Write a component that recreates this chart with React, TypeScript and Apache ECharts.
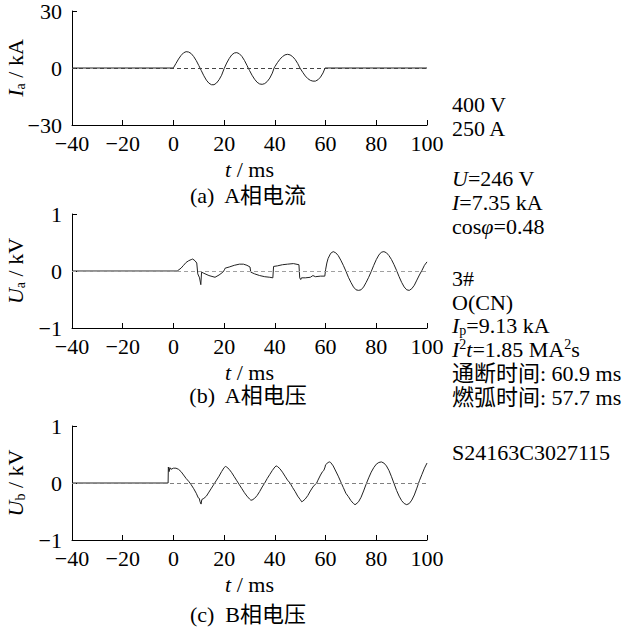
import React, { useEffect, useRef } from 'react';
import * as echarts from 'echarts';

// ---------- data ----------
const xTicks = [-40, -20, 0, 20, 40, 60, 80, 100];
const iaTicks = [-30, 0, 30];
const uTicks = [-1, 0, 1];

// (a) A-phase current, kA
const iaData: [number, number][] = [
  [-40, 0], [-0.5, 0], [0, 0.1], [1, 2.4], [2, 4.7], [3, 6.6], [4, 8.0], [5, 8.6], [6, 8.4], [7, 7.6], [8, 6.0], [9, 3.9], [10, 1.3], [10.5, 0],
  [11, -1.4], [12, -4.1], [13, -6.4], [14, -8.0], [15, -8.8], [16, -8.8], [17, -7.9], [18, -6.2], [19, -3.8], [20, -0.3],
  [21, 2.6], [22, 5.0], [23, 6.9], [24, 7.9], [25, 8.1], [26, 7.5], [27, 6.1], [28, 4.0], [29, 1.4], [29.5, 0],
  [30, -1.3], [31, -3.8], [32, -5.9], [33, -7.5], [34, -8.4], [35, -8.6], [36, -8.2], [37, -7.1], [38, -5.3], [39, -2.7], [39.7, 0],
  [40, 0.7], [41, 2.8], [42, 4.6], [43, 6.0], [44, 6.9], [45, 7.2], [46, 6.9], [47, 6.0], [48, 4.5], [49, 2.4], [49.9, 0],
  [51, -2.3], [52, -4.2], [53, -5.6], [54, -6.5], [55, -6.9], [56, -6.9], [57, -6.2], [58, -4.8], [59, -2.6], [59.8, 0], [100, 0],
];

// (b) A-phase voltage, kV
const uaData: [number, number][] = [
  [-40, 0], [1.5, 0], [3, 0.05], [4, 0.1], [5, 0.15], [6, 0.18], [7, 0.2], [7.6, 0.21], [8.5, 0.18], [9.2, 0.14],
  [9.6, -0.05], [10.3, -0.12], [10.8, -0.24], [11.1, -0.02], [12, -0.04], [14, -0.08], [16.4, -0.11], [18, -0.07], [19.5, -0.02],
  [20.1, 0.02], [20.4, 0.05], [22, 0.07], [24, 0.1], [26, 0.12], [27.6, 0.12], [29, 0.1], [30.2, 0.07],
  [30.5, -0.02], [32, -0.05], [34, -0.08], [36, -0.1], [38, -0.11], [39.2, -0.12],
  [39.5, 0.08], [41, 0.09], [43, 0.11], [45, 0.12], [47.3, 0.13], [49.5, 0.11],
  [49.8, -0.12], [50.2, -0.15], [50.5, -0.12], [52, -0.12], [54, -0.11], [55, -0.08], [56, -0.1], [58, -0.09], [59.7, -0.09],
  [60, 0.02], [60.5, 0.14], [61, 0.22], [62, 0.31], [63, 0.34], [64, 0.32], [65, 0.27], [66, 0.19], [67, 0.1], [68, 0.0],
  [69, -0.11], [70, -0.2], [71, -0.28], [72, -0.33], [73, -0.34], [74, -0.33], [75, -0.28], [76, -0.2], [77, -0.11], [78, -0.01],
  [79, 0.1], [80, 0.2], [81, 0.28], [82, 0.33], [83, 0.34], [84, 0.32], [85, 0.27], [86, 0.2], [87, 0.11], [88, 0.01],
  [89, -0.1], [90, -0.2], [91, -0.28], [92, -0.33], [93, -0.34], [94, -0.31], [95, -0.25], [96, -0.16], [97, -0.07], [98, 0.01],
  [99, 0.1], [100, 0.16],
];

// (c) B-phase voltage, kV
const ubData: [number, number][] = [
  [-40, 0], [-2.1, 0], [-2.0, 0.28], [-1.7, 0.2], [-1.4, 0.27], [-1, 0.24], [0, 0.26], [1, 0.26], [2, 0.24], [3, 0.2], [4, 0.14],
  [5, 0.08], [6, 0.03], [7, -0.03], [8, -0.1], [9, -0.18], [9.8, -0.26], [10.2, -0.27], [10.5, -0.33], [10.9, -0.37], [11.2, -0.29],
  [12, -0.27], [13, -0.23], [14, -0.16], [15, -0.09], [16, -0.02], [17, 0.05], [18, 0.12], [19, 0.2], [20, 0.27], [20.5, 0.29],
  [21, 0.28], [22, 0.24], [23, 0.18], [24, 0.11], [25, 0.04], [26, -0.03], [27, -0.1], [28, -0.17], [29, -0.23], [30, -0.28],
  [30.5, -0.3], [31, -0.3], [32, -0.27], [33, -0.22], [34, -0.15], [35, -0.07], [36, 0.0], [37, 0.08], [38, 0.15], [39, 0.22],
  [40, 0.28], [40.5, 0.3], [41, 0.29], [42, 0.25], [43, 0.19], [44, 0.12], [45, 0.05], [46, 0.0], [47, -0.08], [48, -0.15],
  [49, -0.23], [50, -0.29], [50.6, -0.33], [51, -0.32], [52, -0.28], [53, -0.22], [54, -0.14], [55, -0.07], [56, -0.02], [56.5, 0.0],
  [57, 0.05], [58, 0.14], [58.8, 0.2], [59.3, 0.22], [59.8, 0.28], [60, 0.32], [61, 0.36], [61.6, 0.37], [62, 0.36], [63, 0.3],
  [64, 0.21], [65, 0.12], [66, 0.02], [67, -0.08], [68, -0.18], [69, -0.24], [70, -0.31], [71, -0.36], [71.6, -0.38], [72, -0.37],
  [73, -0.33], [74, -0.25], [75, -0.14], [76, -0.02], [77, 0.09], [78, 0.19], [79, 0.27], [80, 0.33], [81, 0.36], [82, 0.37],
  [83, 0.35], [84, 0.3], [85, 0.22], [86, 0.11], [87, -0.01], [88, -0.13], [89, -0.23], [90, -0.31], [91, -0.36], [92, -0.38],
  [93, -0.36], [94, -0.3], [95, -0.21], [96, -0.09], [97, 0.04], [98, 0.15], [99, 0.26], [100, 0.35],
];

const seriesData = [iaData, uaData, ubData];
const yTickSets = [iaTicks, uTicks, uTicks];
const yNames = ['{it|I}{sub|a}{n| / kA}', '{it|U}{sub|a}{n| / kV}', '{it|U}{sub|b}{n| / kV}'];
const xName = '{it|t}{n| / ms}';
const captions = ['(a)  A相电流', '(b)  A相电压', '(c)  B相电压'];
const infoTexts = [
  '{n|400 V}',
  '{n|250 A}',
  '{it|U}{n|=246 V}',
  '{it|I}{n|=7.35 kA}',
  '{n|cos}{it|φ}{n|=0.48}',
  '{n|3#}',
  '{n|O(CN)}',
  '{it|I}{sub|p}{n|=9.13 kA}',
  '{it|I}{sup|2}{it|t}{n|=1.85 MA}{sup|2}{n|s}',
  '{n|通断时间: 60.9 ms}',
  '{n|燃弧时间: 57.7 ms}',
  '{n|S24163C3027115}',
];

// ---------- layout / style ----------
const FONT = "'Liberation Serif', 'Noto Sans CJK SC', serif";
const FS = 22;
const gridTops = [11, 214, 426];
const gridLeft = 72;
const gridW = 355;
const gridH = 114;
const captionY = [195, 395, 614];
const captionX = 248;
const infoX = 452;
const infoY = [104, 128, 178, 202, 226, 278, 302, 325, 349, 373, 397, 452];
const zeroLineColors = ['#444', '#a0a0a0', '#808080'];

const rich = {
  n: { fontFamily: FONT, fontSize: FS, color: '#000', lineHeight: 24, verticalAlign: 'middle' },
  it: { fontFamily: FONT, fontSize: FS, fontStyle: 'italic', color: '#000', lineHeight: 24, verticalAlign: 'middle' },
  sub: { fontFamily: FONT, fontSize: 14, color: '#000', lineHeight: 11, verticalAlign: 'bottom' },
  sup: { fontFamily: FONT, fontSize: 14, color: '#000', lineHeight: 14, verticalAlign: 'top' },
};

const minus = (v: number) => String(v).replace('-', '−');

export default function App() {
  const ref = useRef<HTMLDivElement>(null);
  useEffect(() => {
    if (!ref.current) return;
    const chart = echarts.init(ref.current, undefined, { renderer: 'svg' });
    const grids = gridTops.map((top) => ({
      left: gridLeft, top, width: gridW, height: gridH, containLabel: false, outerBoundsMode: 'none',
    }));
    const xAxes = gridTops.map((_, i) => ({
      type: 'value', gridIndex: i, min: xTicks[0], max: xTicks[xTicks.length - 1], interval: xTicks[1] - xTicks[0],
      axisLine: { show: true, onZero: false, lineStyle: { color: '#000', width: 1 } },
      axisTick: { show: true, inside: true, length: 5, lineStyle: { color: '#000', width: 1 } },
      axisLabel: { show: true, margin: 7, color: '#000', fontFamily: FONT, fontSize: FS, formatter: minus },
      splitLine: { show: false },
      name: xName, nameLocation: 'middle', nameGap: 32, nameMoveOverlap: false, nameTextStyle: { rich },
    }));
    const yAxes = gridTops.map((_, i) => {
      const t = yTickSets[i];
      return {
        type: 'value', gridIndex: i, min: t[0], max: t[t.length - 1], interval: t[1] - t[0],
        axisLine: { show: true, onZero: false, lineStyle: { color: '#000', width: 1 } },
        axisTick: { show: true, inside: true, length: 5, lineStyle: { color: '#000', width: 1 } },
        axisLabel: { show: true, margin: 10, color: '#000', fontFamily: FONT, fontSize: FS, formatter: minus },
        splitLine: { show: false },
        name: yNames[i], nameLocation: 'middle', nameGap: 45, nameRotate: 90, nameMoveOverlap: false, nameTextStyle: { rich },
      };
    });
    const series: any[] = [];
    seriesData.forEach((d, i) => {
      series.push({
        type: 'line', xAxisIndex: i, yAxisIndex: i, data: [], z: 1, silent: true,
        markLine: {
          silent: true, symbol: 'none', label: { show: false },
          lineStyle: { type: [4, 3], color: zeroLineColors[i], width: 1 },
          data: [{ yAxis: 0 }],
        },
      });
      series.push({
        type: 'line', xAxisIndex: i, yAxisIndex: i, data: d, z: 3, showSymbol: false, symbol: 'none',
        lineStyle: { color: '#222', width: 1 }, silent: true,
      });
    });
    const graphics: any[] = [];
    captions.forEach((c, i) => {
      graphics.push({
        type: 'text', x: captionX, y: captionY[i],
        style: { text: c, font: `${FS}px ${FONT}`, fill: '#000', align: 'center', verticalAlign: 'middle', textAlign: 'center', textVerticalAlign: 'middle' },
      });
    });
    infoTexts.forEach((t, i) => {
      graphics.push({
        type: 'text', x: infoX, y: infoY[i],
        style: { text: t, rich, font: `${FS}px ${FONT}`, fill: '#000', align: 'left', verticalAlign: 'middle', textAlign: 'left', textVerticalAlign: 'middle' },
      });
    });
    chart.setOption({
      animation: false,
      backgroundColor: '#fff',
      grid: grids,
      xAxis: xAxes,
      yAxis: yAxes,
      series,
      graphic: { elements: graphics },
    });
    return () => chart.dispose();
  }, []);
  return <div ref={ref} style={{ position: 'absolute', left: 0, top: 0, width: 622, height: 631 }} />;
}
